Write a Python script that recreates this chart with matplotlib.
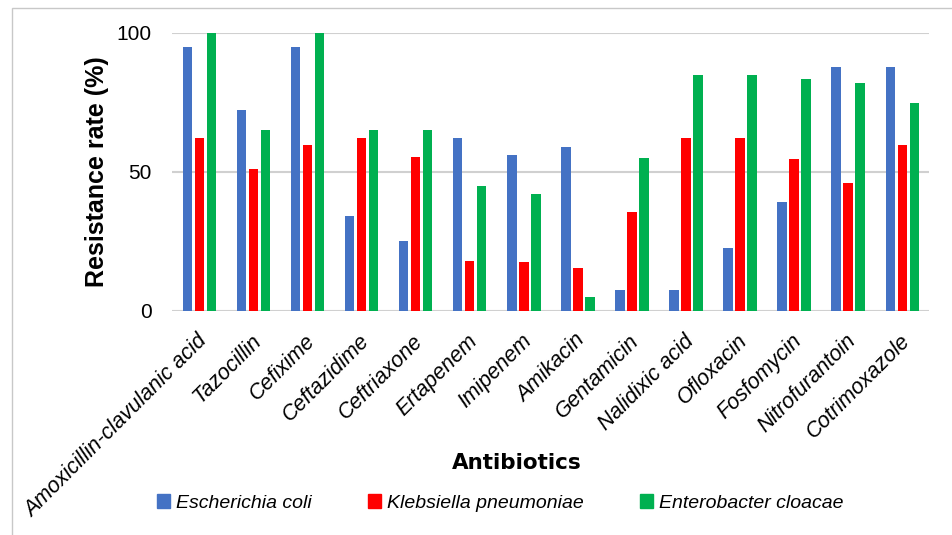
import numpy as np
import matplotlib
matplotlib.use("Agg")
import matplotlib.pyplot as plt
import matplotlib.patches as mpatches
import matplotlib.transforms as mtransforms

# ── data ─────────────────────────────────────────────────────────────────────
antibiotics = [
    "Amoxicillin-clavulanic acid", "Tazocillin", "Cefixime", "Ceftazidime",
    "Ceftriaxone", "Ertapenem", "Imipenem", "Amikacin", "Gentamicin",
    "Nalidixic acid", "Ofloxacin", "Fosfomycin", "Nitrofurantoin", "Cotrimoxazole",
]
species = ["Escherichia coli", "Klebsiella pneumoniae", "Enterobacter cloacae"]

e_coli       = [95.0, 72.1, 95.0, 34.0, 25.2, 62.0, 55.9, 58.8, 7.5, 7.5, 22.7, 39.1, 87.5, 87.5]
k_pneumoniae = [62.2, 50.9, 59.8, 62.2, 55.5, 18.0, 17.6, 15.4, 35.5, 62.2, 62.2, 54.5, 46.0, 59.8]
e_cloacae    = [100, 64.9, 100, 64.9, 64.9, 44.9, 42.0, 4.9, 54.8, 84.9, 84.9, 83.2, 81.8, 74.9]

yticks = [0, 50, 100]

# ── style ────────────────────────────────────────────────────────────────────
COLORS = ["#4472C4", "#FF0000", "#00B050"]
GRID = "#D0D0D0"
SANS = "Liberation Sans"

fig = plt.figure(figsize=(9.52, 5.35), dpi=100)
ax = fig.add_axes([172.3 / 952, 1 - 311 / 535, 757 / 952, (311 - 32.7) / 535])

# chart-area border (only top and left edges visible in the reference)
fig.patches.append(mpatches.Rectangle(
    (11.5 / 952, -0.05), 1.1, 1 - 7.5 / 535 + 0.05, transform=fig.transFigure,
    fill=False, edgecolor="#C8C8C8", linewidth=1.0, zorder=0))

x = np.arange(len(antibiotics))
step, width = 0.222, 0.176
for i, (vals, col) in enumerate(zip([e_coli, k_pneumoniae, e_cloacae], COLORS)):
    ax.bar(x + (i - 1) * step, vals, width=width, color=col, zorder=3)

ax.set_xlim(-0.5, len(antibiotics) - 0.5)
ax.set_ylim(0, 100)
ax.set_yticks(yticks)
ax.set_yticklabels([str(v) for v in yticks], fontsize=15, family=SANS)
ax.tick_params(axis="y", length=0, pad=15)
ax.tick_params(axis="x", length=0, pad=14)
ax.yaxis.grid(True, color=GRID, linewidth=1.5, zorder=0)
ax.set_axisbelow(True)
for s in ax.spines.values():
    s.set_visible(False)

ax.set_xticks(x)
ax.set_xticklabels(antibiotics, rotation=45, ha="right", va="top",
                   rotation_mode="anchor", fontsize=15.5, family=SANS,
                   style="italic")
offset = mtransforms.ScaledTranslation(-3 / 100, 0, fig.dpi_scale_trans)
for lab in ax.get_xticklabels():
    lab.set_transform(lab.get_transform() + offset)

ax.set_ylabel("Resistance rate (%)", fontsize=18, fontweight="bold", family=SANS)
ax.yaxis.set_label_coords(-0.084, 0.5)

fig.text(516.5 / 952, 1 - 469 / 535, "Antibiotics", ha="center", va="baseline",
         fontsize=15.5, fontweight="bold", family="DejaVu Sans")

handles = [mpatches.Patch(color=c, label=s) for c, s in zip(COLORS, species)]
fig.legend(handles=handles, loc="center", ncol=3, frameon=False,
           bbox_to_anchor=(500 / 952, 1 - 503 / 535),
           prop={"family": SANS, "style": "italic", "size": 14},
           handlelength=0.68, handleheight=0.68, handletextpad=0.3,
           columnspacing=2.9)

fig.savefig("out.png", dpi=100)
